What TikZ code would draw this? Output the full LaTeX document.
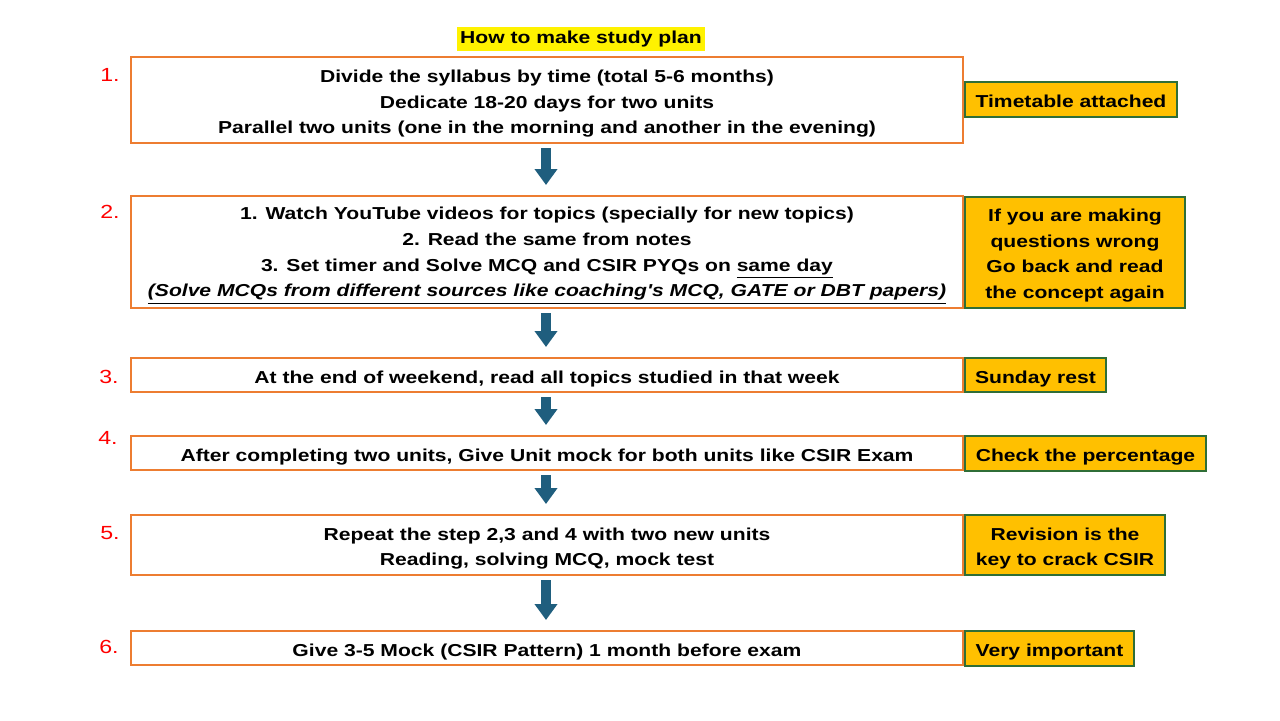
\documentclass[tikz,border=0pt]{standalone}
\usepackage{fontspec}
\setmainfont{Liberation Sans}[FakeStretch=1.22, Ligatures=TeXOff]
\usetikzlibrary{positioning,arrows.meta}
\definecolor{boxorange}{HTML}{ED7D31}
\definecolor{notegold}{HTML}{FFC000}
\definecolor{notegreen}{HTML}{2F6E37}
\definecolor{arrowblue}{HTML}{1F5E7E}
\newcommand{\tallrow}{\rule{0pt}{10pt}}
\begin{document}
\begin{tikzpicture}[x=0.5pt, y=-0.5pt,
  every node/.style={font=\fontsize{8.65}{12.8}\selectfont\bfseries},
  lowtext/.style={execute at begin node={\rule{0pt}{10pt}}, execute at end node={\rule[-2pt]{0pt}{0pt}}},
  stepbox/.style={draw=boxorange, line width=1pt, fill=white, minimum width=416pt, align=center, inner sep=0pt, lowtext},
  notebox/.style={draw=notegreen, line width=1pt, fill=notegold, align=center, inner sep=0pt, lowtext},
  num/.style={font=\fontsize{9.5}{11}\selectfont, text=red},
  flowarrow/.style={arrowblue, line width=5pt, -{Triangle[width=11pt,length=8pt]}}]
\useasboundingbox (0,0) rectangle (1280,720);
% title
\node[fill=yellow, inner xsep=1.5pt, inner ysep=2pt] (title) at (581,39) {How to make study plan};
% steps
\node[stepbox, minimum height=43pt] (s1) at (547,100) {\tallrow Divide the syllabus by time (total 5-6 months)\\Dedicate 18-20 days for two units\\Parallel two units (one in the morning and another in the evening)};
\node[stepbox, minimum height=56pt] (s2) at (547,252) {\tallrow 1. Watch YouTube videos for topics (specially for new topics)\\2. Read the same from notes\\3. Set timer and Solve MCQ and CSIR PYQs on \underline{same day}\\\underline{\itshape (Solve MCQs from different sources like coaching's MCQ, GATE or DBT papers)}};
\node[stepbox, minimum height=17pt] (s3) at (547,375) {At the end of weekend, read all topics studied in that week};
\node[stepbox, minimum height=17pt] (s4) at (547,453) {After completing two units, Give Unit mock for both units like CSIR Exam};
\node[stepbox, minimum height=30pt] (s5) at (547,545) {\tallrow Repeat the step 2,3 and 4 with two new units\\Reading, solving MCQ, mock test};
\node[stepbox, minimum height=17pt] (s6) at (547,648) {Give 3-5 Mock (CSIR Pattern) 1 month before exam};
% numbers
\node[num] (n1) at (110,75) {1.};
\node[num] (n2) at (110,212) {2.};
\node[num] (n3) at (109,377) {3.};
\node[num] (n4) at (108,438) {4.};
\node[num] (n5) at (110,533) {5.};
\node[num] (n6) at (109,647) {6.};
% notes
\node[notebox, right=0pt of s1, yshift=0.25pt, minimum width=106pt, minimum height=17.5pt] (t1) {Timetable attached};
\node[notebox, right=0pt of s2, minimum width=110pt, minimum height=55.5pt] (t2) {\tallrow If you are making\\questions wrong\\Go back and read\\the concept again};
\node[notebox, right=0pt of s3, minimum width=70.5pt, minimum height=17pt] (t3) {Sunday rest};
\node[notebox, right=0pt of s4, minimum width=120.5pt, minimum height=17.5pt] (t4) {Check the percentage};
\node[notebox, right=0pt of s5, minimum width=100pt, minimum height=30pt] (t5) {\tallrow Revision is the\\key to crack CSIR};
\node[notebox, right=0pt of s6, minimum width=84.5pt, minimum height=17.5pt] (t6) {Very important};
% arrows
\foreach \a/\b in {s1/s2, s2/s3, s3/s4, s4/s5, s5/s6}
  \draw[flowarrow] ([xshift=-0.5pt, yshift=-2pt]\a.south) -- ([xshift=-0.5pt, yshift=5pt]\b.north);
\end{tikzpicture}
\end{document}
